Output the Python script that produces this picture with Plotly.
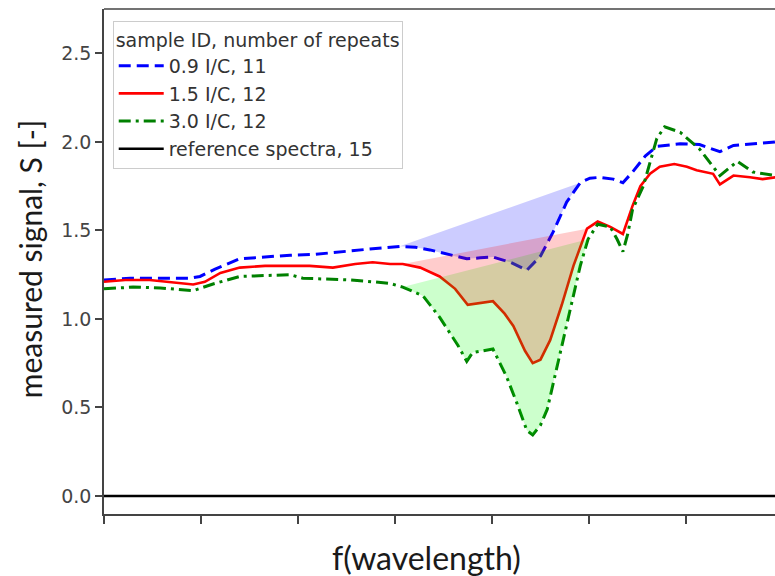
import plotly.graph_objects as go

# ---- data (x in arbitrary f(wavelength) units, ticks every 1) ----
blue_x = [0.00, 0.27, 0.47, 0.68, 0.89, 0.99, 1.14, 1.40, 1.66, 1.92, 2.18, 2.43, 2.74, 3.05,
          3.21, 3.36, 3.57, 3.74, 3.88, 4.01, 4.19, 4.36, 4.50, 4.63, 4.77, 4.91, 5.01, 5.11,
          5.25, 5.35, 5.45, 5.58, 5.70, 5.94, 6.14, 6.35, 6.49, 6.71, 6.92]
blue_y = [1.22, 1.23, 1.23, 1.23, 1.23, 1.24, 1.28, 1.34, 1.35, 1.36, 1.365, 1.38, 1.395, 1.41,
          1.405, 1.39, 1.36, 1.34, 1.345, 1.35, 1.32, 1.275, 1.355, 1.49, 1.66, 1.77, 1.795, 1.80,
          1.79, 1.77, 1.83, 1.92, 1.975, 1.99, 1.985, 1.945, 1.98, 1.99, 2.00]

red_x = [0.00, 0.22, 0.47, 0.68, 0.92, 1.04, 1.20, 1.40, 1.66, 1.92, 2.12, 2.36, 2.59, 2.77,
         2.95, 3.08, 3.26, 3.46, 3.62, 3.75, 3.88, 4.01, 4.13, 4.22, 4.34, 4.42, 4.50, 4.60,
         4.72, 4.84, 4.98, 5.09, 5.22, 5.35, 5.45, 5.53, 5.63, 5.73, 5.88, 6.01, 6.11, 6.28,
         6.35, 6.49, 6.66, 6.79, 6.92]
red_y = [1.21, 1.22, 1.22, 1.21, 1.195, 1.21, 1.26, 1.29, 1.30, 1.30, 1.30, 1.29, 1.31, 1.32,
         1.31, 1.31, 1.29, 1.24, 1.17, 1.08, 1.09, 1.10, 1.03, 0.96, 0.82, 0.75, 0.77, 0.88,
         1.08, 1.30, 1.51, 1.55, 1.52, 1.48, 1.64, 1.75, 1.82, 1.86, 1.875, 1.86, 1.84, 1.82,
         1.76, 1.81, 1.80, 1.79, 1.80]

green_x = [0.00, 0.30, 0.58, 0.92, 1.14, 1.40, 1.66, 1.92, 2.05, 2.33, 2.54, 2.77, 2.95, 3.08,
           3.29, 3.46, 3.54, 3.65, 3.74, 3.80, 4.01, 4.15, 4.26, 4.36, 4.42, 4.50, 4.57, 4.65,
           4.73, 4.82, 4.91, 4.99, 5.09, 5.22, 5.29, 5.35, 5.40, 5.45, 5.56, 5.70, 5.78, 5.94,
           6.14, 6.35, 6.53, 6.69, 6.92]
green_y = [1.17, 1.18, 1.175, 1.16, 1.20, 1.24, 1.245, 1.25, 1.23, 1.225, 1.22, 1.21, 1.20, 1.18,
           1.13, 1.01, 0.94, 0.85, 0.76, 0.81, 0.83, 0.675, 0.52, 0.37, 0.345, 0.40, 0.49, 0.68,
           0.87, 1.10, 1.30, 1.45, 1.535, 1.52, 1.45, 1.38, 1.48, 1.62, 1.75, 2.02, 2.085, 2.055,
           1.96, 1.81, 1.89, 1.83, 1.81]

ref_x = [0.00, 6.92]
ref_y = [0.0, 0.0]

# absorption-band chord limits (x start, x end) for each sample
blue_band = (3.05, 4.91)
red_band = (3.08, 4.98)
green_band = (3.05, 4.99)

x_ticks = [0, 1, 2, 3, 4, 5, 6, 7]
y_ticks = [0.0, 0.5, 1.0, 1.5, 2.0, 2.5]

labels = ["0.9 I/C, 11", "1.5 I/C, 12", "3.0 I/C, 12", "reference spectra, 15"]


def band(xs, ys, lim):
    bx = [x for x in xs if lim[0] <= x <= lim[1]]
    by = [y for x, y in zip(xs, ys) if lim[0] <= x <= lim[1]]
    return bx, by


fig = go.Figure()

fig.add_trace(go.Scatter(x=blue_x, y=blue_y, mode="lines", name=labels[0],
                         line=dict(color="#0000ff", width=3, dash="12px,6px")))
fig.add_trace(go.Scatter(x=red_x, y=red_y, mode="lines", name=labels[1],
                         line=dict(color="#ff0000", width=2.6)))
fig.add_trace(go.Scatter(x=green_x, y=green_y, mode="lines", name=labels[2],
                         line=dict(color="#008000", width=3, dash="12px,5px,3px,5px")))
fig.add_trace(go.Scatter(x=ref_x, y=ref_y, mode="lines", name=labels[3],
                         line=dict(color="#000000", width=2.6)))

for xs, ys, lim, col in [(blue_x, blue_y, blue_band, "rgba(0,0,255,0.2)"),
                         (green_x, green_y, green_band, "rgba(0,255,0,0.2)"),
                         (red_x, red_y, red_band, "rgba(255,0,0,0.2)")]:
    bx, by = band(xs, ys, lim)
    fig.add_trace(go.Scatter(x=bx, y=by, mode="none", fill="toself", fillcolor=col,
                             showlegend=False, hoverinfo="skip"))

axis_col = "#444444"
fig.update_layout(
    width=775, height=576,
    margin=dict(l=104, r=0, t=9, b=62),
    plot_bgcolor="white", paper_bgcolor="white",
    showlegend=True,
    legend=dict(
        title=dict(text="sample ID, number of repeats", font=dict(family="DejaVu Sans", size=19, color="#333")),
        font=dict(family="DejaVu Sans", size=19, color="#333"),
        x=0.013, y=0.976, xanchor="left", yanchor="top",
        bgcolor="rgba(255,255,255,0.85)", bordercolor="#cccccc", borderwidth=1,
        traceorder="normal", itemwidth=45,
    ),
    xaxis=dict(range=[0, 6.918], tickvals=x_ticks, showticklabels=False, ticks="outside",
               ticklen=8, tickwidth=1.5, tickcolor=axis_col, showline=True, linecolor=axis_col,
               linewidth=1.5, showgrid=False, zeroline=False),
    yaxis=dict(range=[-0.102, 2.751], tickvals=y_ticks, tickformat=".1f", ticks="outside",
               ticklen=7, tickwidth=1.5, tickcolor=axis_col, showline=True, linecolor=axis_col,
               linewidth=1.5, showgrid=False, zeroline=False,
               tickfont=dict(family="DejaVu Sans", size=19, color="#444")),
    shapes=[dict(type="line", xref="paper", yref="paper", x0=0, x1=1, y0=1, y1=1,
                 line=dict(color=axis_col, width=1.5))],
    annotations=[
        dict(text="f(wavelength)", xref="paper", yref="paper", x=0.481, y=-0.087,
             xanchor="center", yanchor="middle", showarrow=False,
             font=dict(family="Lato", size=32, color="#1a1a1a")),
        dict(text="measured signal, S [-]", xref="paper", yref="paper", x=-0.110, y=0.505,
             xanchor="center", yanchor="middle", showarrow=False, textangle=-90,
             font=dict(family="Lato", size=30, color="#1a1a1a")),
    ],
)

fig.write_html("out.html", config={"displayModeBar": False},
               post_script="document.body.style.margin='0';document.body.style.padding='0';")
